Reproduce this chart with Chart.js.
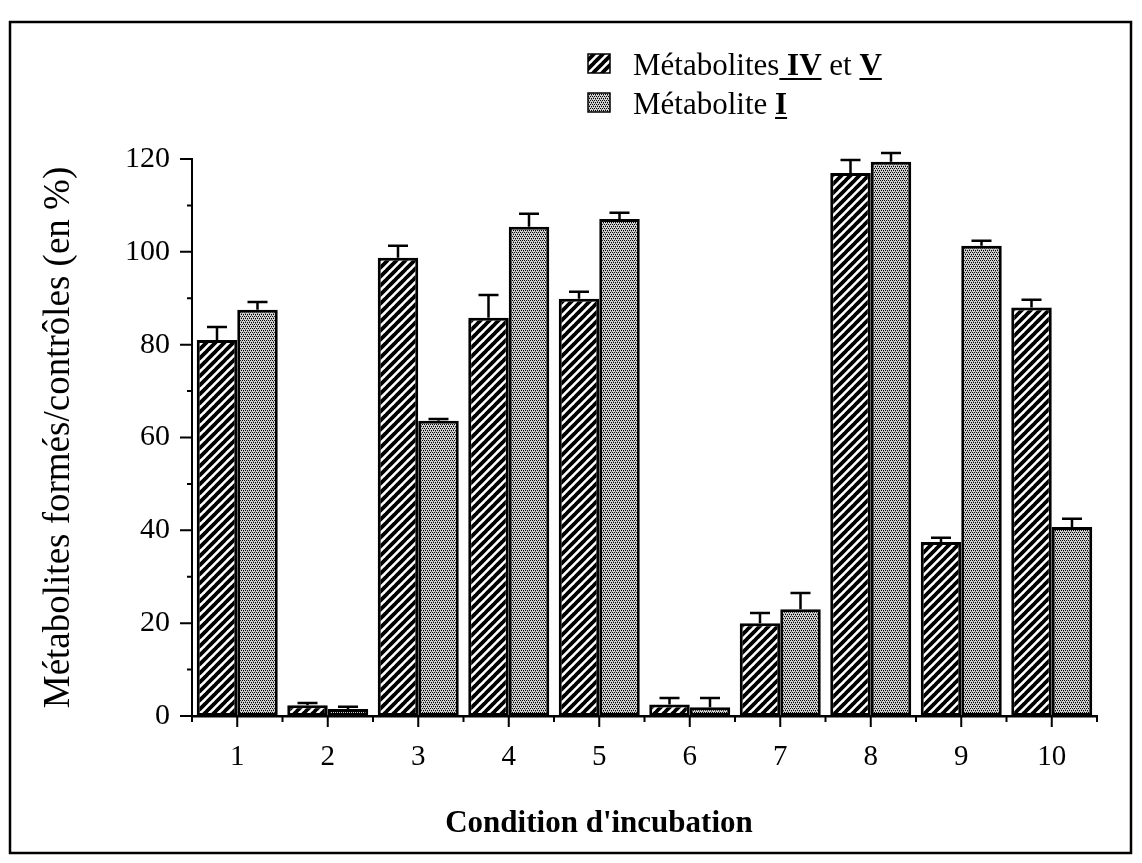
<!DOCTYPE html>
<html>
<head>
<meta charset="utf-8">
<script src="https://cdn.jsdelivr.net/npm/chart.js@4.4.1/dist/chart.umd.min.js"></script>
<style>
  html, body { margin: 0; background: #fff; }
  #wrap { width: 1142px; height: 863px; position: relative; }
</style>
</head>
<body>
<div id="wrap"><canvas id="chart"></canvas></div>
<script>
// values (% of controls)
const conditions = ["1", "2", "3", "4", "5", "6", "7", "8", "9", "10"];
const metabIVV = [81, 2.3, 98.7, 85.8, 89.9, 2.5, 20, 117, 37.5, 88];
const metabIVVTop = [83.8, 2.8, 101.3, 90.7, 91.4, 3.9, 22.2, 119.8, 38.4, 89.7];
const metabI = [87.5, 1.5, 63.6, 105.4, 107.1, 1.9, 23, 119.4, 101.3, 40.7];
const metabITop = [89.2, 2.0, 64.0, 108.2, 108.4, 3.9, 26.5, 121.3, 102.4, 42.5];
const yMajor = [0, 20, 40, 60, 80, 100, 120];

const SERIF = "'Liberation Serif', 'DejaVu Serif', serif";

// fill patterns: black diagonal hatching and grey stipple
function makeHatch() {
    const c = document.createElement("canvas");
    c.width = c.height = 9;
    const g = c.getContext("2d");
    g.fillStyle = "#fff";
    g.fillRect(0, 0, 9, 9);
    g.strokeStyle = "#000";
    g.lineWidth = 3.8;
    g.beginPath();
    for (let k = -1; k <= 1; k++) {
        g.moveTo(k * 9 - 1, 10);
        g.lineTo(k * 9 + 10, -1);
    }
    g.stroke();
    return g.createPattern(c, "repeat");
}

function makeStipple() {
    const c = document.createElement("canvas");
    c.width = c.height = 4;
    const g = c.getContext("2d");
    g.fillStyle = "#d2d2d2";
    g.fillRect(0, 0, 4, 4);
    g.fillStyle = "#000";
    g.fillRect(0, 0, 1, 1);
    g.fillRect(2, 0, 1, 1);
    g.fillRect(1, 2, 1, 1);
    g.fillRect(3, 2, 1, 1);
    g.fillStyle = "#777";
    g.fillRect(1, 1, 1, 1);
    g.fillRect(3, 3, 1, 1);
    return g.createPattern(c, "repeat");
}

const hatch = makeHatch();
const stipple = makeStipple();

const legendRows = [
    { fill: hatch, parts: [
        { t: "Métabolites", b: false, u: false },
        { t: " IV", b: true, u: true },
        { t: " et ", b: false, u: false },
        { t: "V", b: true, u: true }
    ]},
    { fill: stipple, parts: [
        { t: "Métabolite ", b: false, u: false },
        { t: "I", b: true, u: true }
    ]}
];

const decor = {
    id: "decor",
    beforeDraw(chart) {
        const ctx = chart.ctx;
        ctx.save();
        ctx.strokeStyle = "#000";
        ctx.lineWidth = 2.5;
        ctx.strokeRect(10, 22, 1121, 831);
        ctx.restore();
    },
    afterDatasetsDraw(chart) {
        const ctx = chart.ctx;
        const ys = chart.scales.y;
        ctx.save();
        ctx.strokeStyle = "#000";
        ctx.lineWidth = 2.5;
        [[0, metabIVVTop], [1, metabITop]].forEach(([di, tops]) => {
            chart.getDatasetMeta(di).data.forEach((bar, i) => {
                const yt = ys.getPixelForValue(tops[i]);
                ctx.beginPath();
                ctx.moveTo(bar.x, bar.y);
                ctx.lineTo(bar.x, yt);
                ctx.moveTo(bar.x - 10, yt);
                ctx.lineTo(bar.x + 10, yt);
                ctx.stroke();
            });
        });
        ctx.restore();
    },
    afterDraw(chart) {
        const ctx = chart.ctx;
        const xs = chart.scales.x, ys = chart.scales.y;
        ctx.save();
        ctx.strokeStyle = "#000";
        ctx.lineWidth = 2;
        ctx.beginPath();
        // y ticks: long on labelled values, short in between
        ys.ticks.forEach(t => {
            const y = ys.getPixelForValue(t.value);
            const len = yMajor.includes(t.value) ? 12 : 5;
            ctx.moveTo(ys.right - len, y);
            ctx.lineTo(ys.right, y);
        });
        // x ticks: long at category centres, short at boundaries
        const half = (xs.getPixelForValue(1) - xs.getPixelForValue(0)) / 2;
        conditions.forEach((c, i) => {
            const cx = xs.getPixelForValue(i);
            ctx.moveTo(cx, xs.top);
            ctx.lineTo(cx, xs.top + 11);
            ctx.moveTo(cx - half, xs.top);
            ctx.lineTo(cx - half, xs.top + 6);
            if (i === conditions.length - 1) {
                ctx.moveTo(cx + half, xs.top);
                ctx.lineTo(cx + half, xs.top + 6);
            }
        });
        ctx.stroke();

        // x axis title
        ctx.fillStyle = "#000";
        ctx.font = "bold 31px " + SERIF;
        ctx.textAlign = "center";
        ctx.textBaseline = "alphabetic";
        ctx.fillText("Condition d'incubation", 599, 832);

        // legend
        ctx.textAlign = "left";
        legendRows.forEach((row, r) => {
            const base = 75 + r * 39;
            ctx.fillStyle = row.fill;
            ctx.fillRect(588, base - 21, 22, 19);
            ctx.lineWidth = 1.5;
            ctx.strokeRect(588, base - 21, 22, 19);
            let x = 633;
            row.parts.forEach(p => {
                ctx.font = (p.b ? "bold " : "") + "31px " + SERIF;
                ctx.fillStyle = "#000";
                ctx.fillText(p.t, x, base);
                const w = ctx.measureText(p.t).width;
                if (p.u) {
                    ctx.fillRect(x, base + 3, w, 2);
                }
                x += w;
            });
        });
        ctx.restore();
    }
};

new Chart(document.getElementById("chart"), {
    type: "bar",
    data: {
        labels: conditions,
        datasets: [
            {
                label: "Métabolites IV et V",
                data: metabIVV,
                backgroundColor: hatch,
                borderColor: "#000",
                borderWidth: 3,
                borderSkipped: false
            },
            {
                label: "Métabolite I",
                data: metabI,
                backgroundColor: stipple,
                borderColor: "#000",
                borderWidth: 3,
                borderSkipped: false
            }
        ]
    },
    options: {
        responsive: true, maintainAspectRatio: false,
        animation: false,
        categoryPercentage: 0.895,
        barPercentage: 1.0,
        layout: { padding: { left: 0, top: 159, right: 45, bottom: 0 } },
        plugins: { legend: { display: false }, tooltip: { enabled: false } },
        scales: {
            x: {
                grid: { display: false, drawTicks: false },
                border: { display: true, color: "#000", width: 2.5 },
                ticks: {
                    color: "#000", font: { family: SERIF, size: 29 },
                    padding: 24, autoSkip: false, maxRotation: 0
                },
                afterFit: s => { s.height = 147; }
            },
            y: {
                min: 0, max: 120,
                grid: { display: false, drawTicks: false },
                border: { display: true, color: "#000", width: 2 },
                ticks: {
                    stepSize: 10, autoSkip: false,
                    color: "#000", font: { family: SERIF, size: 30 },
                    padding: 22,
                    callback: v => yMajor.includes(v) ? String(v) : ""
                },
                title: {
                    display: true,
                    text: "Métabolites formés/contrôles (en %)",
                    color: "#000",
                    font: { family: SERIF, size: 37 },
                    padding: { top: 37, bottom: 0 }
                },
                afterFit: s => { s.width = 192; }
            }
        }
    },
    plugins: [decor]
});
</script>
</body>
</html>
